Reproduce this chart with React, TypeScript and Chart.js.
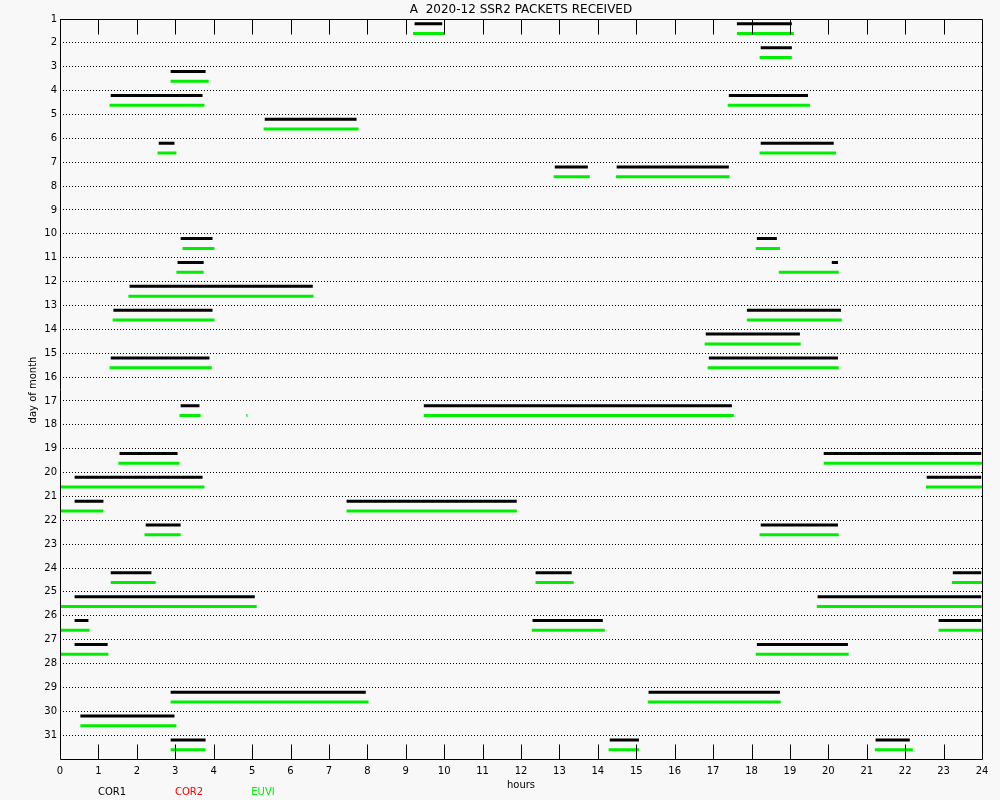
import React, { useEffect, useRef } from "react";
import { Chart, registerables } from "chart.js";

Chart.register(...registerables);

// hour ticks (x) and day ticks (y)
const hourTicks = [0, 1, 2, 3, 4, 5, 6, 7, 8, 9, 10, 11, 12, 13, 14, 15, 16, 17, 18, 19, 20, 21, 22, 23, 24];
const dayTicks = [1, 2, 3, 4, 5, 6, 7, 8, 9, 10, 11, 12, 13, 14, 15, 16, 17, 18, 19, 20, 21, 22, 23, 24, 25, 26, 27, 28, 29, 30, 31];

// [day, start hour, end hour]
const cor1Segments: number[][] = [
  [1, 9.23, 9.95], [1, 17.62, 19.05],
  [2, 18.24, 19.05],
  [3, 2.88, 3.79],
  [4, 1.32, 3.71], [4, 17.41, 19.47],
  [5, 5.33, 7.72],
  [6, 2.57, 2.98], [6, 18.24, 20.14],
  [7, 12.88, 13.74], [7, 14.49, 17.41],
  [10, 3.14, 3.97], [10, 18.14, 18.66],
  [11, 3.06, 3.74], [11, 20.09, 20.25],
  [12, 1.81, 6.58],
  [13, 1.39, 3.97], [13, 17.88, 20.33],
  [14, 16.81, 19.26],
  [15, 1.32, 3.89], [15, 16.89, 20.25],
  [17, 3.14, 3.63], [17, 9.47, 17.49],
  [19, 1.55, 3.06], [19, 19.88, 23.98],
  [20, 0.38, 3.71], [20, 22.56, 23.98],
  [21, 0.38, 1.13], [21, 7.46, 11.89],
  [22, 2.23, 3.14], [22, 18.24, 20.25],
  [24, 1.32, 2.38], [24, 12.38, 13.32], [24, 23.24, 23.98],
  [25, 0.38, 5.07], [25, 19.72, 23.98],
  [26, 0.38, 0.74], [26, 12.3, 14.13], [26, 22.87, 23.98],
  [27, 0.38, 1.24], [27, 18.14, 20.51],
  [29, 2.88, 7.96], [29, 15.32, 18.74],
  [30, 0.53, 2.98],
  [31, 2.88, 3.79], [31, 14.31, 15.07], [31, 21.23, 22.12],
];

const euviSegments: number[][] = [
  [1, 9.19, 10.0], [1, 17.62, 19.1],
  [2, 18.21, 19.05],
  [3, 2.88, 3.87],
  [4, 1.29, 3.76], [4, 17.38, 19.52],
  [5, 5.3, 7.77],
  [6, 2.54, 3.03], [6, 18.21, 20.2],
  [7, 12.85, 13.79], [7, 14.47, 17.43],
  [10, 3.19, 4.02], [10, 18.11, 18.74],
  [11, 3.03, 3.74], [11, 18.71, 20.27],
  [12, 1.78, 6.6],
  [13, 1.37, 4.02], [13, 17.88, 20.35],
  [14, 16.78, 19.28],
  [15, 1.29, 3.95], [15, 16.86, 20.27],
  [17, 3.11, 3.66], [17, 4.85, 4.88], [17, 9.47, 17.54],
  [19, 1.52, 3.11], [19, 19.88, 24],
  [20, 0, 3.76], [20, 22.54, 24],
  [21, 0, 1.13], [21, 7.46, 11.89],
  [22, 2.2, 3.14], [22, 18.21, 20.27],
  [24, 1.32, 2.49], [24, 12.38, 13.37], [24, 23.22, 24],
  [25, 0, 5.12], [25, 19.7, 24],
  [26, 0, 0.77], [26, 12.28, 14.18], [26, 22.87, 24],
  [27, 0, 1.26], [27, 18.11, 20.53],
  [29, 2.88, 8.03], [29, 15.3, 18.76],
  [30, 0.53, 3.03],
  [31, 2.88, 3.79], [31, 14.28, 15.07], [31, 21.21, 22.2],
];

const legendItems = [
  { label: "COR1", color: "#000000" },
  { label: "COR2", color: "#ff0000" },
  { label: "EUVI", color: "#00ee00" },
];

const titleText = "A  2020-12 SSR2 PACKETS RECEIVED";

function toLine(segs: number[][], offset: number) {
  const pts: { x: number; y: number | null }[] = [];
  segs.forEach(([d, s, e]) => {
    pts.push({ x: s, y: d + offset });
    pts.push({ x: e, y: d + offset });
    pts.push({ x: e, y: null });
  });
  return pts;
}

const FONT = "DejaVu Sans";

const decorPlugin = {
  id: "decor",
  beforeDraw(chart: any) {
    const ctx = chart.ctx;
    ctx.save();
    ctx.fillStyle = "#f8f8f8";
    ctx.fillRect(0, 0, chart.width, chart.height);
    ctx.restore();
  },
  afterDraw(chart: any) {
    const ctx = chart.ctx;
    const { left, right, top, bottom } = chart.chartArea;
    const xs = chart.scales.x;
    const L = Math.round(left) + 0.5;
    const R = Math.round(right) + 0.5;
    const T = Math.round(top) + 0.5;
    const B = Math.round(bottom) + 0.5;
    ctx.save();
    ctx.strokeStyle = "#000";
    ctx.lineWidth = 1;
    ctx.beginPath();
    ctx.rect(L, T, R - L, B - T);
    ctx.stroke();
    // inward ticks
    ctx.beginPath();
    hourTicks.slice(1, -1).forEach((h) => {
      const px = Math.round(xs.getPixelForValue(h)) + 0.5;
      ctx.moveTo(px, B);
      ctx.lineTo(px, B - 15);
      ctx.moveTo(px, T);
      ctx.lineTo(px, T + 15);
    });
    ctx.stroke();

    const cx = (left + right) / 2;
    ctx.fillStyle = "#000";
    ctx.textAlign = "center";
    ctx.textBaseline = "middle";
    ctx.font = `12px "${FONT}"`;
    ctx.fillText(titleText, cx, 10);
    ctx.font = `10px "${FONT}"`;
    ctx.fillText("hours", cx, 785);

    ctx.save();
    ctx.translate(33, 390);
    ctx.rotate(-Math.PI / 2);
    ctx.fillText("day of month", 0, 0);
    ctx.restore();

    const legendX = [112, 189, 263];
    ctx.font = `10px "${FONT}"`;
    legendItems.forEach((it, i) => {
      ctx.fillStyle = it.color;
      ctx.fillText(it.label, legendX[i], 792);
    });
    ctx.restore();
  },
};

export default function App() {
  const ref = useRef<HTMLCanvasElement | null>(null);
  useEffect(() => {
    if (!ref.current) return;
    const chart = new Chart(ref.current, {
      type: "scatter",
      data: {
        datasets: [
          {
            label: "COR1",
            data: toLine(cor1Segments, 0.2) as any,
            showLine: true,
            borderColor: "#000000",
            borderWidth: 3,
            borderCapStyle: "butt",
            pointRadius: 0,
            spanGaps: false,
          },
          {
            label: "EUVI",
            data: toLine(euviSegments, 0.61) as any,
            showLine: true,
            borderColor: "#00ee00",
            borderWidth: 3,
            borderCapStyle: "butt",
            pointRadius: 0,
            spanGaps: false,
          },
        ],
      },
      options: {
        responsive: false,
        animation: false,
        devicePixelRatio: 1,
        layout: { padding: { top: 19, right: 18, left: 0, bottom: 0 } },
        plugins: { legend: { display: false }, tooltip: { enabled: false }, title: { display: false } },
        scales: {
          x: {
            type: "linear",
            min: 0,
            max: 24,
            afterFit: (s: any) => {
              s.height = 41;
            },
            afterBuildTicks: (s: any) => {
              s.ticks = hourTicks.map((v) => ({ value: v }));
            },
            ticks: {
              autoSkip: false,
              maxRotation: 0,
              color: "#000",
              padding: 6,
              font: { family: FONT, size: 10 },
              callback: (v: any) => String(v),
            },
            grid: { display: false, drawTicks: false },
            border: { display: false },
          },
          y: {
            type: "linear",
            min: 1,
            max: 32,
            reverse: true,
            afterFit: (s: any) => {
              s.width = 60;
            },
            afterBuildTicks: (s: any) => {
              s.ticks = dayTicks.map((v) => ({ value: v }));
            },
            ticks: {
              autoSkip: false,
              color: "#000",
              padding: 3,
              font: { family: FONT, size: 10 },
              callback: (v: any) => String(v),
            },
            grid: { color: "#000", lineWidth: 1, drawTicks: false, borderDash: [1, 2] } as any,
            border: { display: false, dash: [1, 2] },
          },
        },
      } as any,
      plugins: [decorPlugin],
    });
    return () => chart.destroy();
  }, []);
  return (
    <canvas
      ref={ref}
      width={1000}
      height={800}
      style={{ position: "absolute", left: 0, top: 0, width: 1000, height: 800 }}
    />
  );
}
